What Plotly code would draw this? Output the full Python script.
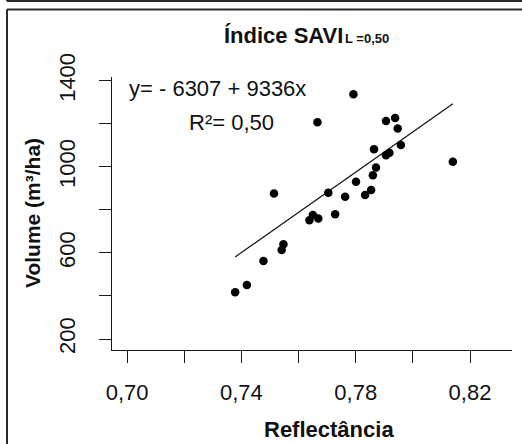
import plotly.graph_objects as go

# Reflectance (SAVI, L = 0.50) and wood volume per plot
reflectancia = [0.7378, 0.7419, 0.7477, 0.7514, 0.7541, 0.7547, 0.7638, 0.7650,
                0.7669, 0.7666, 0.7704, 0.7728, 0.7763, 0.7792, 0.7801, 0.7833,
                0.7854, 0.7860, 0.7864, 0.7871, 0.7906, 0.7906, 0.7918, 0.7938,
                0.7947, 0.7958, 0.8140]
volume = [417, 451, 562, 876, 613, 640, 752, 776,
          760, 1207, 879, 780, 861, 1337, 930, 869,
          892, 961, 1082, 997, 1054, 1213, 1065, 1227,
          1178, 1101, 1023]

# Fitted regression
intercepto = -6307
inclinacao = 9336
r2_texto = "0,50"

x_ticks = [0.70, 0.72, 0.74, 0.76, 0.78, 0.80, 0.82]
x_ticktext = ["0,70", "", "0,74", "", "0,78", "", "0,82"]
y_ticks = [200, 400, 600, 800, 1000, 1200, 1400]
y_ticktext = ["200", "", "600", "", "1000", "", "1400"]

W, H = 522, 444
ML, MR, MT, MB = 112, 10, 77, 94
PW, PH = W - ML - MR, H - MT - MB


def px(x):
    return (x - ML) / PW


def py(y):
    return (H - MB - y) / PH


FONT = "Liberation Sans, Arial, sans-serif"
INK = "#111111"

x_min, x_max = min(reflectancia), max(reflectancia)
fit_x = [x_min, x_max]
fit_y = [intercepto + inclinacao * v for v in fit_x]

fig = go.Figure()
fig.add_trace(go.Scatter(x=fit_x, y=fit_y, mode="lines",
                         line=dict(color="#111111", width=1.2),
                         showlegend=False, hoverinfo="skip"))
fig.add_trace(go.Scatter(x=reflectancia, y=volume, mode="markers",
                         marker=dict(color="#000000", size=8.5, line=dict(width=0)),
                         showlegend=False))

axis_common = dict(showgrid=False, zeroline=False, showline=True,
                   linecolor="#1a1a1a", linewidth=1.3,
                   ticks="outside", ticklen=12, tickwidth=1.3, tickcolor="#1a1a1a",
                   tickfont=dict(family=FONT, size=22, color=INK))

fig.update_xaxes(range=[0.6947, 0.8347], tickvals=x_ticks, ticktext=x_ticktext,
                 ticklabelstandoff=10, **axis_common)
fig.update_yaxes(range=[149, 1417], tickvals=y_ticks, ticktext=y_ticktext,
                 tickangle=-90, ticklabelstandoff=15, **axis_common)

annotations = [
    dict(text="<b>Índice SAVI</b>", x=px(222), y=py(35), xanchor="left", yanchor="middle",
         font=dict(family=FONT, size=22, color=INK)),
    dict(text="<b>L =0,50</b>", x=px(343), y=py(38), xanchor="left", yanchor="middle",
         font=dict(family=FONT, size=13, color=INK)),
    dict(text=f"y= - {abs(intercepto)} + {inclinacao}x", x=px(127), y=py(89),
         xanchor="left", yanchor="middle", font=dict(family=FONT, size=22, color=INK)),
    dict(text=f"R²= {r2_texto}", x=px(187), y=py(123),
         xanchor="left", yanchor="middle", font=dict(family=FONT, size=22, color=INK)),
    dict(text="<b>Reflectância</b>", x=px(329), y=py(429), xanchor="center", yanchor="middle",
         font=dict(family=FONT, size=22, color=INK)),
    dict(text="<b>Volume (m³/ha)</b>", x=px(32), y=py(213), xanchor="center", yanchor="middle",
         textangle=-90, font=dict(family=FONT, size=21, color=INK)),
]
for a in annotations:
    a.update(xref="paper", yref="paper", showarrow=False)

frame = dict(color="#2a2a2a", width=2)
shapes = [
    # strip along the top edge
    dict(type="line", x0=px(7), x1=px(W), y0=py(1), y1=py(1), line=frame),
    dict(type="line", x0=px(7), x1=px(7), y0=py(0), y1=py(1), line=frame),
    # panel border
    dict(type="line", x0=px(7), x1=px(W), y0=py(9.5), y1=py(9.5), line=frame),
    dict(type="line", x0=px(7), x1=px(7), y0=py(9.5), y1=py(H), line=frame),
]
for s in shapes:
    s.update(xref="paper", yref="paper", layer="above")

fig.update_layout(width=W, height=H, margin=dict(l=ML, r=MR, t=MT, b=MB),
                  paper_bgcolor="white", plot_bgcolor="white",
                  annotations=annotations, shapes=shapes)

fig.write_html("out.html")
